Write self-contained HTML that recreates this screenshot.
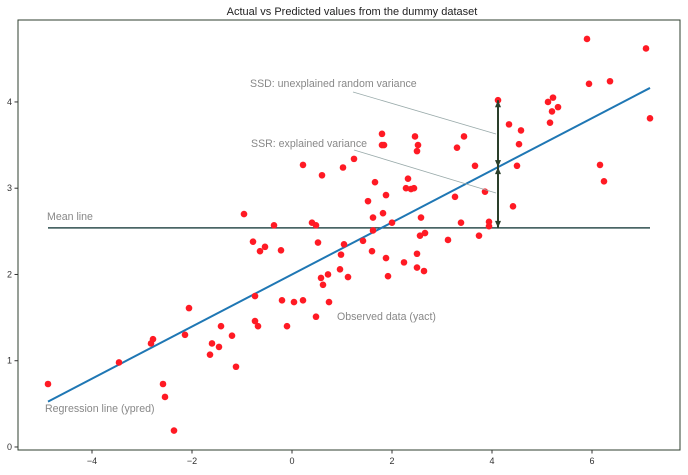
<!DOCTYPE html>
<html><head><meta charset="utf-8">
<style>
body{margin:0;background:#fff;width:688px;height:470px;overflow:hidden;font-family:"Liberation Sans",sans-serif;}
svg text{font-family:"Liberation Sans",sans-serif;}
</style></head>
<body>
<svg id="chart" width="688" height="470" viewBox="0 0 688 470" xmlns="http://www.w3.org/2000/svg">
<text x="352" y="15" text-anchor="middle" font-size="11" fill="#222">Actual vs Predicted values from the dummy dataset</text>
<rect x="18" y="20" width="662" height="430" fill="none" stroke="#2f3f2f" stroke-width="1"/>
<g id="ticks"></g>
<g id="marks"></g>
<text x="47" y="220" font-size="10.6" fill="#888">Mean line</text>
<text x="45" y="412" font-size="10.6" fill="#888">Regression line (ypred)</text>
<text x="337" y="320" font-size="10.6" fill="#888">Observed data (yact)</text>
<text x="250" y="87" font-size="10.6" fill="#888">SSD: unexplained random variance</text>
<text x="251" y="147" font-size="10.6" fill="#888">SSR: explained variance</text>
<line x1="353" y1="92" x2="496" y2="134" stroke="#9aa" stroke-width="0.8"/>
<line x1="354" y1="150" x2="496" y2="193" stroke="#9aa" stroke-width="0.8"/>
</svg>
<script>
const xs=[-4.88,-3.46,-2.82,-2.78,-2.58,-2.54,-2.36,-2.14,-2.06,-1.64,-1.60,-1.46,-1.42,-1.20,-1.12,-0.96,-0.78,-0.74,-0.74,-0.68,-0.64,-0.54,-0.36,-0.22,-0.20,-0.10,0.04,0.22,0.22,0.40,0.48,0.48,0.52,0.58,0.60,0.62,0.72,0.74,0.96,0.98,1.02,1.04,1.12,1.24,1.42,1.52,1.60,1.62,1.62,1.66,1.80,1.80,1.84,1.82,1.88,1.88,1.92,2.00,2.24,2.28,2.32,2.38,2.44,2.46,2.50,2.52,2.50,2.50,2.56,2.58,2.66,2.64,3.12,3.26,3.30,3.38,3.44,3.66,3.74,3.86,3.94,3.94,4.12,4.34,4.42,4.50,4.54,4.58,5.12,5.16,5.20,5.22,5.32,5.90,5.94,6.16,6.24,6.36,7.08,7.16];
const ys=[0.73,0.98,1.20,1.25,0.73,0.58,0.19,1.30,1.61,1.07,1.20,1.16,1.40,1.29,0.93,2.70,2.38,1.75,1.46,1.40,2.27,2.32,2.57,2.28,1.70,1.40,1.68,3.27,1.70,2.60,2.57,1.51,2.37,1.96,3.15,1.88,2.00,1.68,2.06,2.23,3.24,2.35,1.97,3.34,2.39,2.85,2.27,2.66,2.51,3.07,3.63,3.50,3.50,2.71,2.92,2.19,1.98,2.60,2.14,3.00,3.11,2.99,3.00,3.60,3.43,3.50,2.24,2.08,2.45,2.66,2.48,2.04,2.40,2.90,3.47,2.60,3.60,3.26,2.45,2.96,2.61,2.56,4.02,3.74,2.79,3.26,3.51,3.67,4.00,3.76,3.89,4.05,3.94,4.73,4.21,3.27,3.08,4.24,4.62,3.81];
const xTicks=[-4,-2,0,2,4,6];
const yTicks=[0,1,2,3,4];
const regIntercept=2.0, regSlope=0.302;
const meanY=2.54;
const arrowX=4.12;
const xMin=-5.48,xMax=7.76,yMin=-0.035,yMax=4.95;
const L=18,R=680,T=20,B=450;
const sx=v=>L+(v-xMin)/(xMax-xMin)*(R-L);
const sy=v=>B-(v-yMin)/(yMax-yMin)*(B-T);
const NS="http://www.w3.org/2000/svg";
function mk(tag,attrs,parent){const e=document.createElementNS(NS,tag);for(const k in attrs)e.setAttribute(k,attrs[k]);parent.appendChild(e);return e;}
const tg=document.getElementById('ticks'),mg=document.getElementById('marks');
xTicks.forEach(t=>{
 const l=mk('line',{x1:sx(t),x2:sx(t),y1:B,y2:B+3.5,stroke:'#333'},tg);
 
 
 const tx=mk('text',{x:sx(t),y:B+14,'text-anchor':'middle','font-size':'9',fill:'#333'},tg);
 tx.textContent=t<0?'\u2212'+(-t):String(t);
 
 
});
yTicks.forEach(t=>{
 const l=mk('line',{x1:L-3.5,x2:L,y1:sy(t),y2:sy(t),stroke:'#333'},tg);
 
 
 const tx=mk('text',{x:L-6,y:sy(t)+3,'text-anchor':'end','font-size':'9',fill:'#333'},tg);
 tx.textContent=String(t);
 
 
});
const x0=Math.min(...xs),x1=Math.max(...xs);
const ml=mk('line',{x1:sx(x0),x2:sx(x1),y1:sy(meanY),y2:sy(meanY),stroke:'#2f4f4f','stroke-width':1.6},mg);


const rl=mk('line',{x1:sx(x0),x2:sx(x1),y1:sy(regIntercept+regSlope*x0),y2:sy(regIntercept+regSlope*x1),stroke:'#1f77b4','stroke-width':2},mg);


xs.forEach((x,i)=>{
 const c=mk('circle',{cx:sx(x),cy:sy(ys[i]),r:3.3,fill:'#ff1a24'},mg);
 
 
});
const ai=xs.indexOf(arrowX);
const ax=sx(arrowX),ya=sy(ys[ai]),yp=sy(regIntercept+regSlope*arrowX),ym=sy(meanY);
function arrow(yFrom,yTo,name){
 const g=mk('g',{},mg);
 
 
 mk('line',{x1:ax,x2:ax,y1:yFrom,y2:yTo,stroke:'#2a3f2a','stroke-width':2},g);
 [yFrom,yTo].forEach((y,j)=>{const d=j===0?1:-1;mk('path',{d:`M${ax-3},${y+d*7}L${ax},${y}L${ax+3},${y+d*7}Z`,fill:'#2a3f2a'},g);});
}
arrow(ya,yp,'ssd-arrow');
arrow(yp,ym,'ssr-arrow');
</script>
</body></html>
